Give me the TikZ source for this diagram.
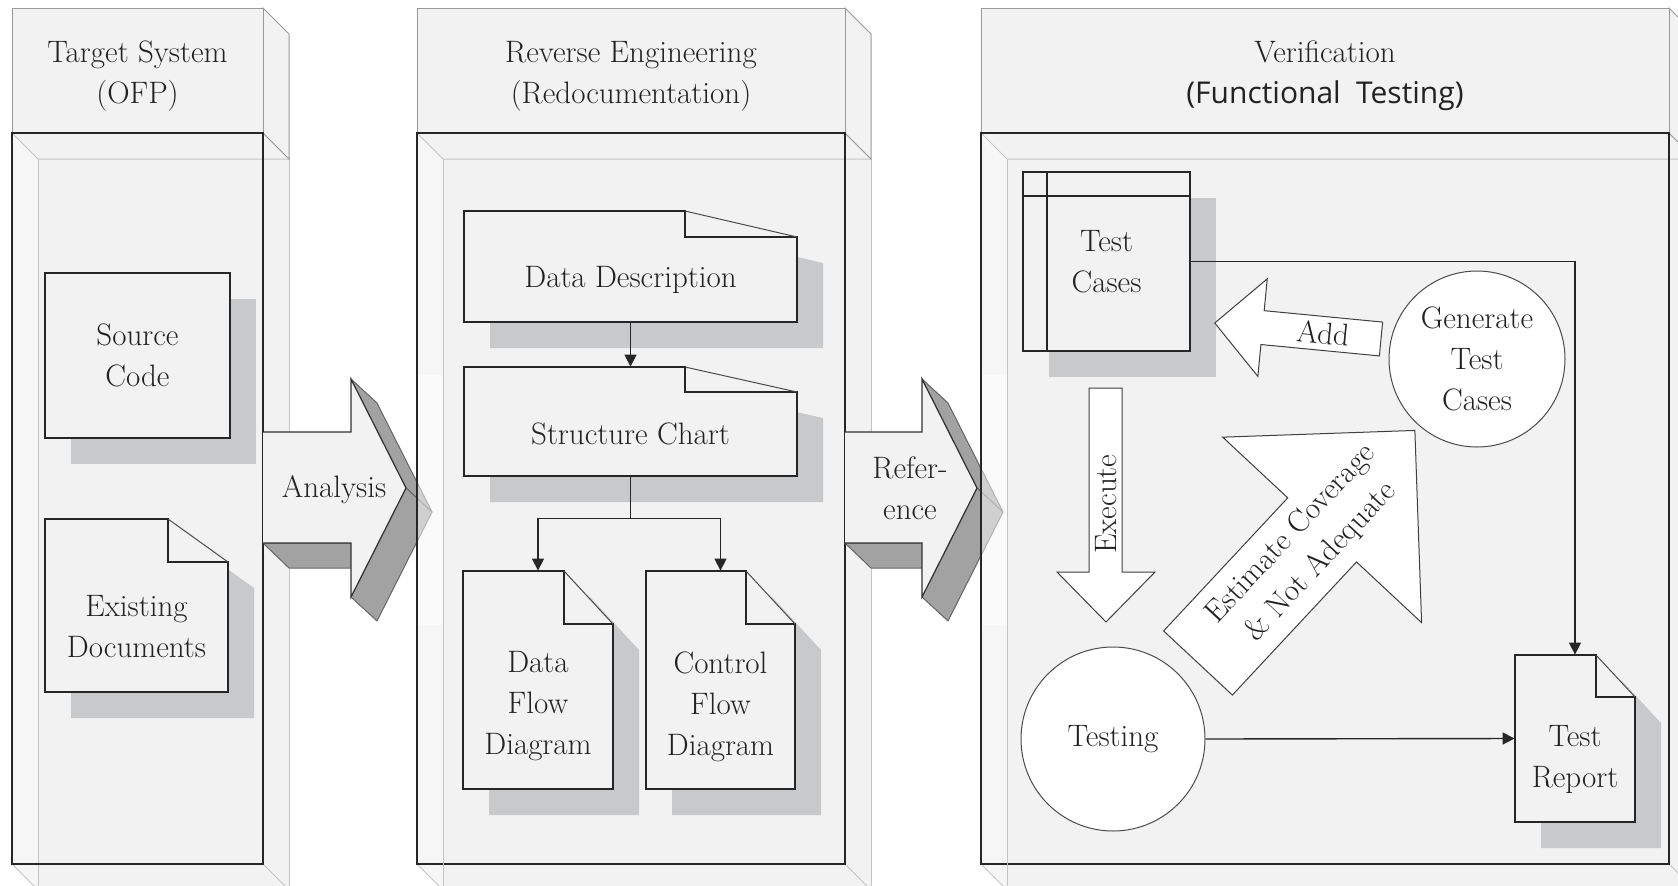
\documentclass[tikz,border=0pt]{standalone}
\usepackage{fontspec}
\newfontfamily\labelsans{Open Sans}
\usetikzlibrary{positioning,shadows,arrows.meta,calc}
\definecolor{panelgray}{HTML}{F2F2F2}
\definecolor{sidegray}{HTML}{F6F6F6}
\definecolor{shadegray}{HTML}{C8C9CB}
\definecolor{facegray}{HTML}{A2A2A2}
\definecolor{edgegray}{HTML}{C4C4C4}
\definecolor{inkgray}{HTML}{222222}

\begin{document}
\begin{tikzpicture}[
        x=0.5pt, y=-0.5pt,
        >={Triangle[length=6pt,width=6pt]},
        every node/.style={font=\fontsize{15.5}{20.5}\selectfont, text=inkgray},
        title/.style={align=center},
        frontline/.style={draw=black!85, line width=0.9pt},
        backline/.style={draw=edgegray, line width=0.5pt},
        headline/.style={draw=black!40, line width=0.5pt, fill=panelgray},
        face/.style={fill=facegray, draw=black!60, line width=0.5pt, line join=round},
        arrowedge/.style={draw=black!80, line width=0.6pt, line join=miter},
        docline/.style={draw=black!85, line width=0.9pt},
        foldline/.style={draw=black!70, line width=0.5pt},
        connector/.style={draw=black!85, line width=0.7pt},
        box/.style={
            rectangle, draw=black!85, line width=0.9pt, fill=panelgray, align=center, inner sep=0pt,
            drop shadow={shadow xshift=13pt, shadow yshift=-13pt, fill=shadegray, opacity=1}
        },
        round/.style={circle, draw=black!70, line width=0.5pt, fill=white, align=center, inner sep=0pt},
        blockarrow/.style={fill=white, draw=black!75, line width=0.5pt, line join=miter},
        pics/docpage/.style n args={5}{code={
            \fill[shadegray] (26,26) -- ({#1-#3+26},26) -- ({#1+26},{#4+26}) -- ({#1+26},{#2+26}) -- (26,{#2+26}) -- cycle;
            \fill[panelgray] (0,0) -- ({#1-#3},0) -- (#1,#4) -- (#1,#2) -- (0,#2) -- cycle;
            \draw[docline] ({#1-#3},0) -- (0,0) -- (0,#2) -- (#1,#2) -- (#1,#4) -- ({#1-#3},#4) -- cycle;
            \draw[foldline] ({#1-#3},0) -- (#1,#4);
            \node (-box) [minimum width=#1*0.5pt, minimum height=#2*0.5pt, inner sep=0pt] at ({#1/2},{#2/2}) {};
            \node (-text) [align=center] at ({#1/2},{(#2+#4)/2}) {#5};
        }},
    ]
    \useasboundingbox (0,0) rectangle (1678,885);
    \clip (0,0) rectangle (1678,885);

    % the three 3D panels
    \foreach \xa/\xb in {12/263, 417/845, 981/1669} {
        \fill[panelgray] (\xa,133) -- (\xb,133) -- (\xb+26,159) -- (\xb+26,890) -- (\xa+26,890) -- (\xa,864) -- cycle;
        \fill[sidegray] (\xa,133) -- (\xa+26,159) -- (\xa+26,890) -- (\xa,864) -- cycle;
        \draw[backline] (\xa,133) -- (\xa+26,159) -- (\xb+26,159);
        \draw[backline] (\xa+26,159) -- (\xa+26,890);
        \draw[backline] (\xb+26,159) -- (\xb+26,890);
        \draw[backline] (\xa,864) -- (\xa+26,890);
        \draw[backline] (\xb,864) -- (\xb+26,890);
        \draw[backline] (\xb,133) -- (\xb+26,159);
        \draw[headline] (\xb,8) -- (\xb+26,34) -- (\xb+26,159) -- (\xb,133) -- cycle;
        \draw[headline] (\xa,8) rectangle (\xb,133);
        \draw[frontline] (\xa,133) rectangle (\xb,864);
    }

    % 3D arrows between the panels
    \foreach \xs/\xh in {263/351, 845/922} {
        \path[face] (\xs,543) -- (\xh,543) -- (\xh+26,568) -- (\xs+26,568) -- cycle;
        \path[face] (\xh,379) -- (\xh+26,403) -- (\xh+81,512) -- (\xh+55,488) -- cycle;
        \path[face] (\xh+55,488) -- (\xh+81,512) -- (\xh+26,621) -- (\xh,597) -- cycle;
        \fill[panelgray] (\xs,432) -- (\xh,432) -- (\xh,379) -- (\xh+55,488) -- (\xh,597) -- (\xh,543) -- (\xs,543) -- cycle;
        \draw[arrowedge] (\xs,432) -- (\xh,432) -- (\xh,379) -- (\xh+55,488) -- (\xh,597) -- (\xh,543) -- (\xs,543);
    }
    \foreach \xa in {417, 981} {
        \fill[white, opacity=0.5] (\xa,375) rectangle (\xa+26,625);
        \draw[backline] (\xa+26,159) -- (\xa+26,890);
        \draw[frontline] (\xa,133) -- (\xa,864);
    }
    \node (analysis) at (334,490) {Analysis};
    \node (reference) [align=center] at (910,488) {Refer-\\ence};

    % panel titles
    \node (targetTitle) [title] at (137.5,76) {Target System\\(OFP)};
    \node (reverseTitle) [title] at (631,76) {Reverse Engineering\\(Redocumentation)};
    \node (verifyTitle) [title] at (1325,76) {Verification\\{\labelsans\fontsize{15}{20.5}\selectfont (Functional\hspace{0.25em} Testing)}};

    % target system
    \node (source) [box, minimum width=92.5pt, minimum height=82.5pt] at (137.5,355.5) {Source\\Code};
    \pic (existing) at (45,519) {docpage={183}{173}{60}{43}{Existing\\Documents}};

    % reverse engineering
    \pic (datadesc) at (464,211) {docpage={333}{111}{112}{26}{Data Description}};
    \pic (structure) at (464,367) {docpage={333}{109}{112}{25}{Structure Chart}};
    \pic (dataflow) at (463,571) {docpage={150}{218}{49}{53}{Data\\Flow\\Diagram}};
    \pic (controlflow) at (646,571) {docpage={149}{218}{49}{53}{Control\\Flow\\Diagram}};

    \draw[connector, ->] (datadesc-box.south) -- (structure-box.north);
    \coordinate (split) at ($(structure-box.south)+(0,42)$);
    \draw[connector] (structure-box.south) -- (split);
    \draw[connector, ->] (split) -| (dataflow-box.north);
    \draw[connector, ->] (split) -| (controlflow-box.north);

    % verification
    \node (testcases) [box, minimum width=83.5pt, minimum height=89.5pt] at (1106.5,261.5) {Test\\Cases};
    \draw[docline] ($(testcases.north west)+(0,25)$) -- ($(testcases.north east)+(0,25)$);
    \draw[docline] ($(testcases.north west)+(25,0)$) -- ($(testcases.south west)+(25,0)$);

    \node (generate) [round, minimum size=88pt] at (1477,359) {Generate\\Test\\Cases};
    \node (testing) [round, minimum size=92pt] at (1113,739) {Testing};
    \pic (report) at (1515,655) {docpage={120}{167}{39}{42}{Test\\Report}};

    \path[blockarrow, shift={(1381,339)}, rotate=-5.5] (0,-17) -- (-119,-17) -- (-119,-49) -- (-167,0) -- (-119,49) -- (-119,17) -- (0,17) -- cycle;
    \node (add) [rotate=-5.5] at (1323,333) {Add};

    \path[blockarrow] (1089,388) -- (1122,388) -- (1122,572) -- (1155,572) -- (1106,622) -- (1057,572) -- (1089,572) -- cycle;
    \node (execute) [rotate=90] at (1106,504) {Execute};

    \path[blockarrow, shift={(1198,663)}, rotate=47] (0,-47) -- (182,-47) -- (182,-136) -- (318,0) -- (182,136) -- (182,47) -- (0,47) -- cycle;
    \node (estimate) [rotate=47, align=center] at (1306,548) {Estimate Coverage\\\& Not Adequate};

    \draw[connector, ->] (testcases.east) -| (report-box.north);
    \draw[connector, ->] (testing.east) -- (report-box.west);
\end{tikzpicture}
\end{document}
